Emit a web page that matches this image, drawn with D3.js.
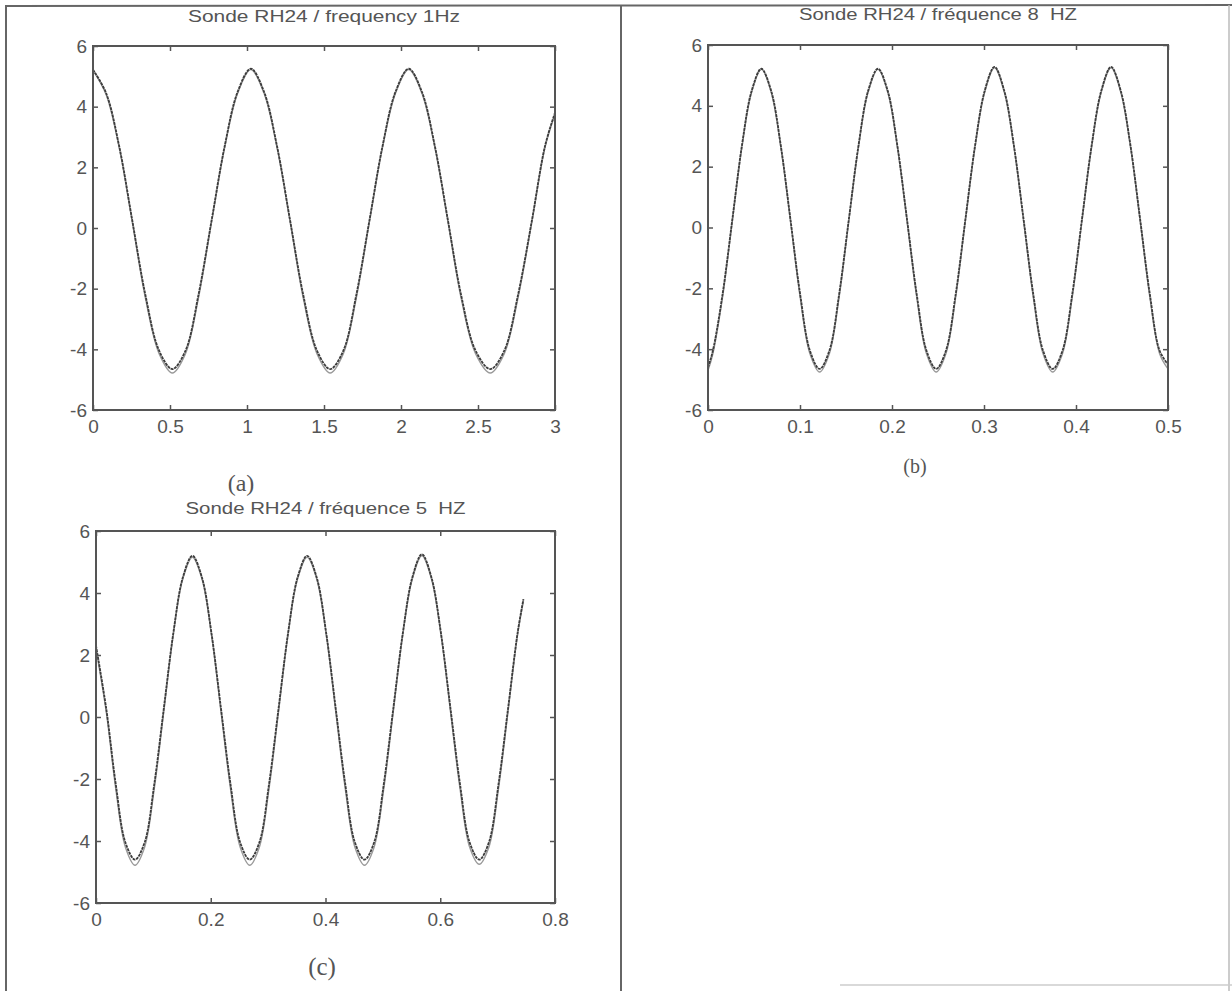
<!DOCTYPE html>
<html><head><meta charset="utf-8">
<script src="https://cdn.jsdelivr.net/npm/d3@7"></script>
<style>
html,body{margin:0;padding:0;background:#fff;}
svg text{font-family:"Liberation Sans",Arial,Helvetica,sans-serif;fill:#555;}
</style></head>
<body>
<svg id="c" width="1232" height="991"></svg>
<script>
// ---------- data ----------
const titles = ["Sonde RH24 / frequency 1Hz", "Sonde RH24 / fréquence 8  HZ", "Sonde RH24 / fréquence 5  HZ"];
const panelLabels = ["(a)", "(b)", "(c)"];
const yTicks = [-6, -4, -2, 0, 2, 4, 6];
const xTicksA = [0, 0.5, 1, 1.5, 2, 2.5, 3];
const xTicksB = [0, 0.1, 0.2, 0.3, 0.4, 0.5];
const xTicksC = [0, 0.2, 0.4, 0.6, 0.8];

// panel (a) : 1 Hz
const aT = [0, 0.085, 0.17, 0.255, 0.34, 0.43, 0.515, 0.60, 0.685, 0.77, 0.855, 0.94, 1.025,
  1.11, 1.195, 1.28, 1.365, 1.455, 1.54, 1.625, 1.71, 1.795, 1.88, 1.965, 2.05,
  2.135, 2.22, 2.305, 2.39, 2.485, 2.58, 2.67, 2.76, 2.85, 2.935, 3.0];
const aV = [5.22, 4.45, 2.7, 0.25, -2.2, -4.05, -4.65, -4.05, -2.2, 0.25, 2.7, 4.5, 5.25,
  4.5, 2.7, 0.25, -2.2, -4.05, -4.65, -4.05, -2.2, 0.25, 2.7, 4.5, 5.25,
  4.5, 2.7, 0.25, -2.2, -4.05, -4.65, -4.05, -2.2, 0.25, 2.7, 3.8];
const aV2 = [5.2, 4.4, 2.65, 0.2, -2.3, -4.15, -4.78, -4.15, -2.3, 0.2, 2.65, 4.45, 5.22,
  4.45, 2.65, 0.2, -2.3, -4.15, -4.78, -4.15, -2.3, 0.2, 2.65, 4.45, 5.22,
  4.45, 2.65, 0.2, -2.3, -4.15, -4.78, -4.15, -2.3, 0.2, 2.65, 3.75];

// panel (b) : 8 Hz
const bT = [0, 0.0053, 0.0158, 0.0264, 0.0369, 0.0475, 0.058, 0.0686, 0.0791, 0.0897, 0.1002, 0.1108, 0.1213,
  0.1319, 0.1425, 0.153, 0.1636, 0.1741, 0.1847, 0.1953, 0.2058, 0.2164, 0.2269, 0.2375, 0.248,
  0.2586, 0.2692, 0.2797, 0.2903, 0.3008, 0.3114, 0.322, 0.3325, 0.3431, 0.3536, 0.3642, 0.3747,
  0.3853, 0.3959, 0.4064, 0.417, 0.4275, 0.4381, 0.4486, 0.4592, 0.4698, 0.4803, 0.4909, 0.5];
const bV = [-4.6, -4.05, -2.2, 0.25, 2.7, 4.5, 5.22, 4.5, 2.7, 0.25, -2.2, -4.05, -4.65,
  -4.05, -2.2, 0.25, 2.7, 4.5, 5.22, 4.5, 2.7, 0.25, -2.2, -4.05, -4.65,
  -4.05, -2.2, 0.25, 2.7, 4.5, 5.28, 4.5, 2.7, 0.25, -2.2, -4.05, -4.65,
  -4.05, -2.2, 0.25, 2.7, 4.5, 5.28, 4.5, 2.7, 0.25, -2.2, -4.05, -4.5];
const bV2 = [-4.7, -4.15, -2.3, 0.2, 2.65, 4.45, 5.2, 4.45, 2.65, 0.2, -2.3, -4.15, -4.75,
  -4.15, -2.3, 0.2, 2.65, 4.45, 5.2, 4.45, 2.65, 0.2, -2.3, -4.15, -4.75,
  -4.15, -2.3, 0.2, 2.65, 4.45, 5.25, 4.45, 2.65, 0.2, -2.3, -4.15, -4.75,
  -4.15, -2.3, 0.2, 2.65, 4.45, 5.25, 4.45, 2.65, 0.2, -2.3, -4.15, -4.65];

// panel (c) : 5 Hz
const cT = [0, 0.018, 0.0347, 0.0513, 0.068, 0.0847, 0.1013, 0.118, 0.1347, 0.1513, 0.168,
  0.1847, 0.2013, 0.218, 0.2347, 0.2513, 0.268, 0.2847, 0.3013, 0.318, 0.3347, 0.3513, 0.368,
  0.3847, 0.4013, 0.418, 0.4347, 0.4513, 0.468, 0.4847, 0.5013, 0.518, 0.5347, 0.5513, 0.568,
  0.5847, 0.6013, 0.618, 0.6347, 0.6513, 0.668, 0.6847, 0.7013, 0.718, 0.7347, 0.745];
const cV = [2.3, 0.25, -2.2, -4.05, -4.6, -4.05, -2.2, 0.25, 2.7, 4.5, 5.2,
  4.5, 2.7, 0.25, -2.2, -4.05, -4.6, -4.05, -2.2, 0.25, 2.7, 4.5, 5.2,
  4.5, 2.7, 0.25, -2.2, -4.05, -4.6, -4.05, -2.2, 0.25, 2.7, 4.5, 5.25,
  4.5, 2.7, 0.25, -2.2, -4.05, -4.6, -4.05, -2.2, 0.25, 2.7, 3.8];
const cV2 = [2.2, 0.15, -2.35, -4.2, -4.78, -4.2, -2.35, 0.15, 2.65, 4.45, 5.15,
  4.45, 2.65, 0.15, -2.35, -4.2, -4.78, -4.2, -2.35, 0.15, 2.65, 4.45, 5.15,
  4.45, 2.65, 0.15, -2.35, -4.2, -4.78, -4.2, -2.35, 0.15, 2.65, 4.45, 5.2,
  4.45, 2.65, 0.15, -2.35, -4.2, -4.75, -4.2, -2.35, 0.15, 2.65, 3.75];

// ---------- layout ----------
const svg = d3.select("#c");
svg.append("rect").attr("width", 1232).attr("height", 991).attr("fill", "#fff");

const panels = [
  {t: aT, v: aV, v2: aV2, xd: [0, 3], xt: xTicksA, x0: 93, x1: 555, y0: 46, y1: 410,
   title: titles[0], ty: 16, tw: 272, lab: panelLabels[0], lx: 241, ly: 491, ls: 24},
  {t: bT, v: bV, v2: bV2, xd: [0, 0.5], xt: xTicksB, x0: 708, x1: 1168, y0: 45, y1: 410,
   title: titles[1], ty: 14, tw: 278, lab: panelLabels[1], lx: 915, ly: 473, ls: 20},
  {t: cT, v: cV, v2: cV2, xd: [0, 0.8], xt: xTicksC, x0: 96, x1: 555, y0: 531, y1: 903,
   title: titles[2], ty: 508, tw: 280, lab: panelLabels[2], lx: 322, ly: 975, ls: 25}
];

// outer frame
const frame = svg.append("g").attr("stroke", "#666").attr("fill", "none");
frame.append("line").attr("x1", 5).attr("x2", 1232).attr("y1", 6).attr("y2", 5).attr("stroke-width", 2);
frame.append("line").attr("x1", 6).attr("x2", 6).attr("y1", 6).attr("y2", 991).attr("stroke-width", 2);
frame.append("line").attr("x1", 621).attr("x2", 621).attr("y1", 6).attr("y2", 991).attr("stroke-width", 2);
frame.append("line").attr("x1", 1229).attr("x2", 1229).attr("y1", 5).attr("y2", 991).attr("stroke-width", 1.5).attr("stroke", "#bbb");
frame.append("line").attr("x1", 840).attr("x2", 1232).attr("y1", 985).attr("y2", 985).attr("stroke-width", 1.5).attr("stroke", "#ccc");

panels.forEach(p => {
  const x = d3.scaleLinear().domain(p.xd).range([p.x0, p.x1]);
  const y = d3.scaleLinear().domain([-6, 6]).range([p.y1, p.y0]);
  const g = svg.append("g");

  // curves
  const line = (vals) => d3.line().x((d, i) => x(p.t[i])).y(d => y(d)).curve(d3.curveCatmullRom.alpha(0.5))(vals);
  g.append("path").attr("d", line(p.v2)).attr("fill", "none").attr("stroke", "#9a9a9a").attr("stroke-width", 1.4);
  g.append("path").attr("d", line(p.v)).attr("fill", "none").attr("stroke", "#3c3c3c").attr("stroke-width", 1.8)
    .attr("stroke-dasharray", "3,0.8");

  // axes
  const fmt = d => String(d);
  const ax = [
    {a: d3.axisBottom(x).tickValues(p.xt).tickFormat(fmt).tickSizeInner(-5).tickSizeOuter(0).tickPadding(10), tr: `translate(0,${p.y1})`},
    {a: d3.axisTop(x).tickValues(p.xt).tickFormat("").tickSizeInner(-5).tickSizeOuter(0), tr: `translate(0,${p.y0})`},
    {a: d3.axisLeft(y).tickValues(yTicks).tickFormat(fmt).tickSizeInner(-5).tickSizeOuter(0).tickPadding(6), tr: `translate(${p.x0},0)`},
    {a: d3.axisRight(y).tickValues(yTicks).tickFormat("").tickSizeInner(-5).tickSizeOuter(0), tr: `translate(${p.x1},0)`}
  ];
  ax.forEach(o => {
    const ag = g.append("g").attr("transform", o.tr).call(o.a).attr("font-size", 19);
    ag.select(".domain").remove();
    ag.selectAll("line").attr("stroke", "#555").attr("stroke-width", 1.5);
    ag.selectAll("text").attr("font-size", 19).style("font-size", "19px").attr("fill", "#4e4e4e")
      .style("font-family", '"Liberation Sans",Arial,sans-serif');
  });
  g.append("rect").attr("x", p.x0).attr("y", p.y0).attr("width", p.x1 - p.x0).attr("height", p.y1 - p.y0)
    .attr("fill", "none").attr("stroke", "#555").attr("stroke-width", 2);

  // title
  g.append("text").attr("x", (p.x0 + p.x1) / 2).attr("y", p.ty).attr("dy", "0.35em")
    .attr("text-anchor", "middle").attr("font-size", 16).attr("fill", "#4e4e4e")
    .style("white-space", "pre").attr("xml:space", "preserve")
    .attr("textLength", p.tw).attr("lengthAdjust", "spacingAndGlyphs").text(p.title);
  // panel label
  g.append("text").attr("x", p.lx).attr("y", p.ly).attr("text-anchor", "middle")
    .attr("font-size", p.ls).style("font-family", '"Liberation Serif","Times New Roman",serif')
    .attr("fill", "#444").text(p.lab);
});
</script>
</body></html>
